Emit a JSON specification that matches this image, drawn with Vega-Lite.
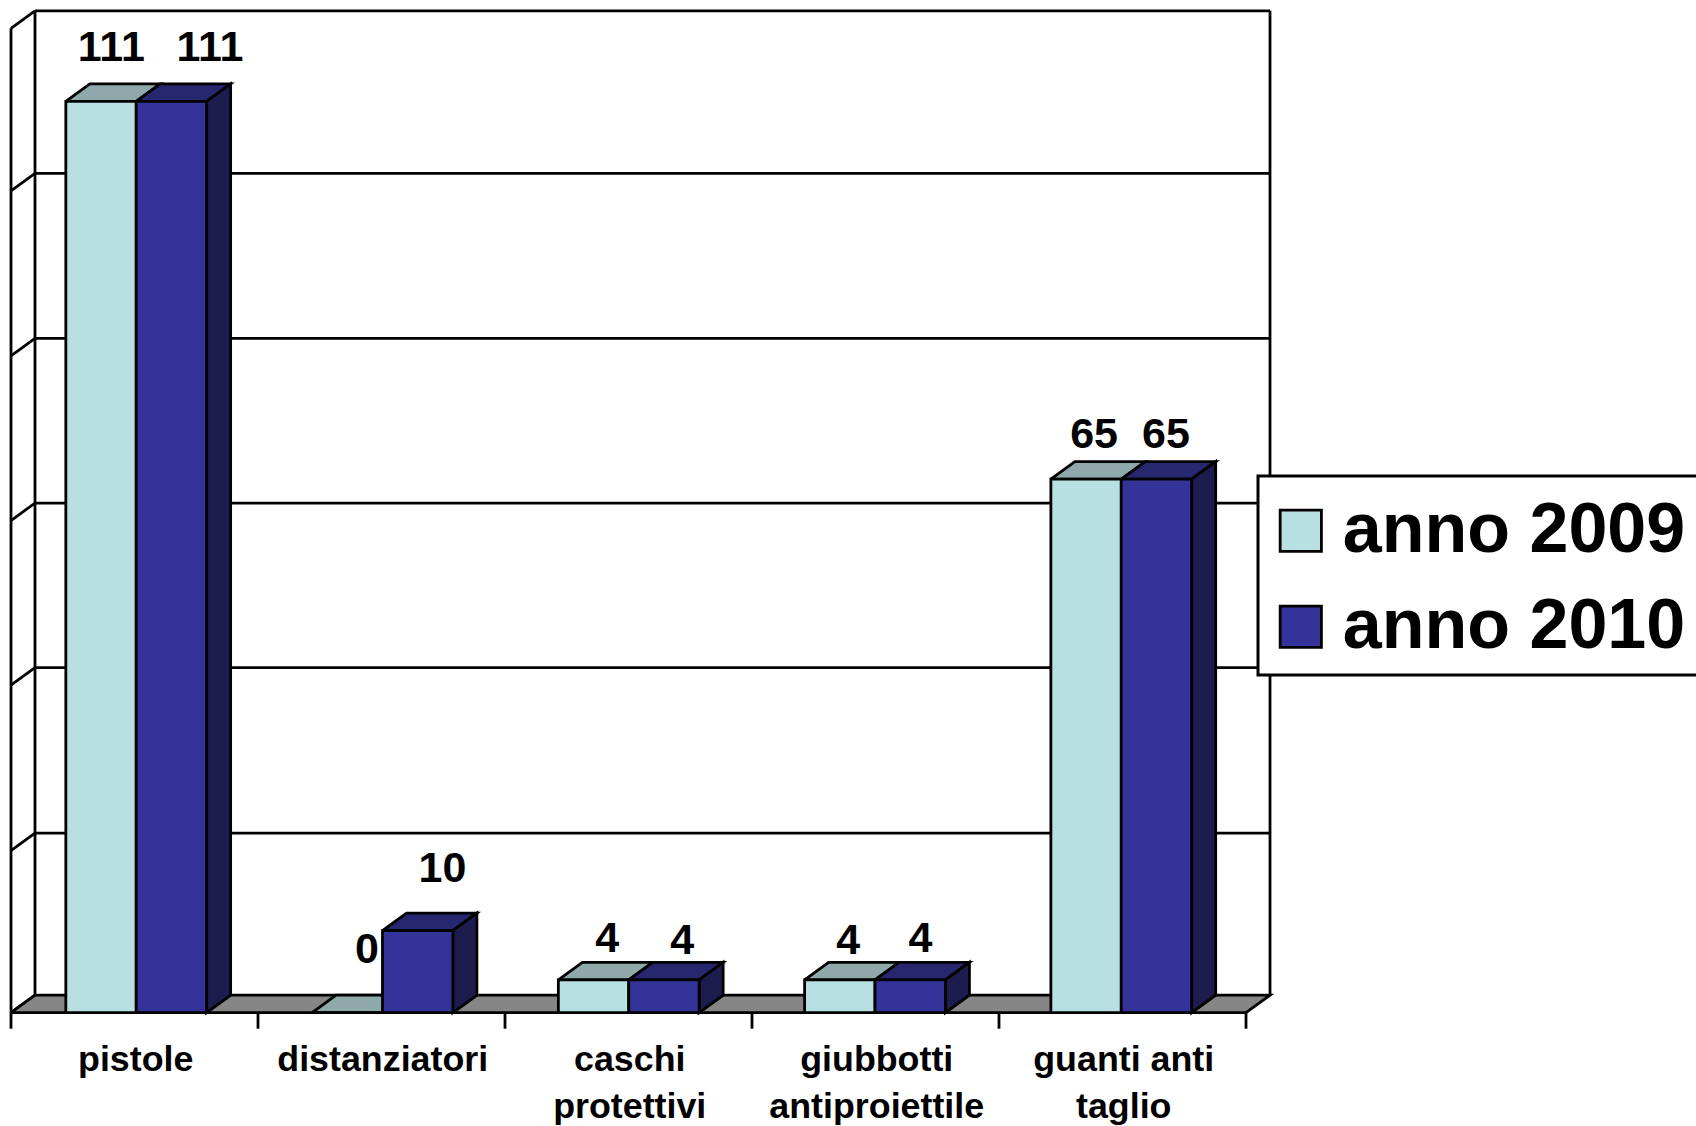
{"$schema":"https://vega.github.io/schema/vega-lite/v6.json","width":1696,"height":1126,"autosize":{"type":"none"},"padding":0,"background":"white","config":{"view":{"stroke":null},"legend":{"strokeWidth":3}},
"datasets":{"bars":[
{"category":"pistole","series":"anno 2009","value":111},{"category":"pistole","series":"anno 2010","value":111},
{"category":"distanziatori","series":"anno 2009","value":0},{"category":"distanziatori","series":"anno 2010","value":10},
{"category":"caschi protettivi","series":"anno 2009","value":4},{"category":"caschi protettivi","series":"anno 2010","value":4},
{"category":"giubbotti antiproiettile","series":"anno 2009","value":4},{"category":"giubbotti antiproiettile","series":"anno 2010","value":4},
{"category":"guanti anti taglio","series":"anno 2009","value":65},{"category":"guanti anti taglio","series":"anno 2010","value":65}],
"grid":[{"v":0},{"v":19.75},{"v":39.9},{"v":59.95},{"v":80},{"v":100.1},{"v":119.9}],
"slots":[{"slot":0},{"slot":1},{"slot":2},{"slot":3},{"slot":4},{"slot":5}],
"labels":[{"text":"pistole","slot":0,"line":0},{"text":"distanziatori","slot":1,"line":0},{"text":"caschi","slot":2,"line":0},{"text":"protettivi","slot":2,"line":1},{"text":"giubbotti","slot":3,"line":0},{"text":"antiproiettile","slot":3,"line":1},{"text":"guanti anti","slot":4,"line":0},{"text":"taglio","slot":4,"line":1}]},
"layer":[
{"data":{"name":"grid"},"mark":{"type":"rule","stroke":"black","strokeWidth":2.8},"transform":[{"filter":"datum.v>0"},{"calculate":"datum.v+2.13","as":"yb"},{"calculate":"0.0972","as":"xa"},{"calculate":"5.0972","as":"xb"}],"encoding":{"x":{"field":"xa","type":"quantitative","axis":null,"scale":{"domain":[-0.04453,6.82186],"range":[0,1696],"nice":false,"zero":false}},"x2":{"field":"xb"},"y":{"field":"yb","type":"quantitative","axis":null,"scale":{"domain":[-13.8,123.35],"range":[1126,0],"nice":false,"zero":false}}}},
{"data":{"name":"grid"},"mark":{"type":"rule","stroke":"black","strokeWidth":2.8},"transform":[{"calculate":"datum.v+2.13","as":"yb"},{"calculate":"0.0972","as":"xb"},{"calculate":"0","as":"xa"}],"encoding":{"x":{"field":"xa","type":"quantitative","axis":null},"x2":{"field":"xb"},"y":{"field":"v","type":"quantitative","axis":null},"y2":{"field":"yb"}}},
{"data":{"values":[{"wall":0,"lo":0,"hi":119.9},{"wall":0.0972,"lo":2.13,"hi":122.03},{"wall":5.0972,"lo":2.13,"hi":122.03}]},"mark":{"type":"rule","stroke":"black","strokeWidth":2.8},"encoding":{"x":{"field":"wall","type":"quantitative","axis":null},"y":{"field":"lo","type":"quantitative","axis":null},"y2":{"field":"hi"}}},
{"data":{"values":[{"px":0,"py":0,"k":0},{"px":0.0972,"py":2.13,"k":1},{"px":5.0972,"py":2.13,"k":2},{"px":5,"py":0,"k":3},{"px":0,"py":0,"k":4}]},"mark":{"type":"line","stroke":"black","strokeWidth":2.8,"fill":"#868686","strokeJoin":"miter"},"encoding":{"x":{"field":"px","type":"quantitative","axis":null},"y":{"field":"py","type":"quantitative","axis":null},"order":{"field":"k","type":"quantitative"}}},
{"data":{"name":"slots"},"mark":{"type":"rule","stroke":"black","strokeWidth":2.8},"transform":[{"calculate":"0","as":"top"},{"calculate":"-1.95","as":"bottom"}],"encoding":{"x":{"field":"slot","type":"quantitative","axis":null},"y":{"field":"top","type":"quantitative","axis":null},"y2":{"field":"bottom"}}},
{"data":{"name":"bars"},"transform":[
{"calculate":"indexof(['pistole','distanziatori','caschi protettivi','giubbotti antiproiettile','guanti anti taglio'],datum.category)","as":"i"},
{"calculate":"0.507+0.997*datum.i+(datum.series==='anno 2009'?-0.285:0)","as":"xL"},{"calculate":"datum.xL+0.285","as":"xR"},
{"calculate":"[datum.xL,datum.xL+0.0972,datum.xR+0.0972,datum.xR,datum.xL]","as":"px"},{"calculate":"[datum.value,datum.value+2.13,datum.value+2.13,datum.value,datum.value]","as":"py"},{"calculate":"[0,1,2,3,4]","as":"k"},{"flatten":["px","py","k"]}],
"mark":{"type":"line","stroke":"black","strokeWidth":2.8,"strokeJoin":"miter"},
"encoding":{"x":{"field":"px","type":"quantitative","axis":null},"y":{"field":"py","type":"quantitative","axis":null},"detail":[{"field":"category"},{"field":"series"}],"order":{"field":"k","type":"quantitative"},"fill":{"condition":{"test":"datum.series==='anno 2009'","value":"#8FA9AB"},"value":"#27276F"}}},
{"data":{"name":"bars"},"transform":[{"filter":"datum.series==='anno 2010'"},
{"calculate":"indexof(['pistole','distanziatori','caschi protettivi','giubbotti antiproiettile','guanti anti taglio'],datum.category)","as":"i"},
{"calculate":"0.507+0.997*datum.i+0.285","as":"xR"},
{"calculate":"[datum.xR,datum.xR+0.0972,datum.xR+0.0972,datum.xR,datum.xR]","as":"px"},{"calculate":"[datum.value,datum.value+2.13,2.13,0,datum.value]","as":"py"},{"calculate":"[0,1,2,3,4]","as":"k"},{"flatten":["px","py","k"]}],
"mark":{"type":"line","stroke":"black","strokeWidth":2.8,"fill":"#1C1C4E","strokeJoin":"miter"},
"encoding":{"x":{"field":"px","type":"quantitative","axis":null},"y":{"field":"py","type":"quantitative","axis":null},"detail":{"field":"category"},"order":{"field":"k","type":"quantitative"}}},
{"data":{"name":"bars"},"transform":[
{"calculate":"indexof(['pistole','distanziatori','caschi protettivi','giubbotti antiproiettile','guanti anti taglio'],datum.category)","as":"i"},
{"calculate":"0.507+0.997*datum.i+(datum.series==='anno 2009'?-0.285:0)","as":"xL"},{"calculate":"datum.xL+0.285","as":"xR"},{"calculate":"0","as":"base"}],
"mark":{"type":"rect","stroke":"black","strokeWidth":2.8},
"encoding":{"x":{"field":"xL","type":"quantitative","axis":null},"x2":{"field":"xR"},"y":{"field":"value","type":"quantitative","axis":null},"y2":{"field":"base"},
"color":{"field":"series","type":"nominal","scale":{"domain":["anno 2009","anno 2010"],"range":["#B8E0E3","#333399"]},
"legend":{"orient":"none","legendX":1258,"legendY":476,"title":" ","titleFontSize":1,"titlePadding":6,"padding":12.8,"fillColor":"white","strokeColor":"black","symbolType":"square","symbolSize":1700,"symbolOffset":-5,"symbolStrokeColor":"black","symbolStrokeWidth":2.8,"symbolOpacity":1,"labelFont":"Liberation Sans","labelFontWeight":"bold","labelFontSize":70,"labelColor":"black","labelOffset":7,"rowPadding":26,"labelLimit":600}}}},
{"data":{"name":"bars"},"transform":[
{"calculate":"indexof(['pistole','distanziatori','caschi protettivi','giubbotti antiproiettile','guanti anti taglio'],datum.category)","as":"i"},
{"calculate":"datum.series==='anno 2009'?0:1","as":"s"},
{"calculate":"[[11.8,40.3],[40.5,40.3],[20.5,49.7],[26,48.6],[13.7,28],[18.7,25.6],[7.7,25.6],[10,28],[6.6,31],[8.5,31]][datum.i*2+datum.s]","as":"shift"},
{"calculate":"datum.i+0.5+(datum.s-0.5)*0.2834+datum.shift[0]/247","as":"lx"},{"calculate":"datum.value+datum.shift[1]/8.21","as":"ly"}],
"mark":{"type":"text","font":"Liberation Sans","fontWeight":"bold","fontSize":43,"align":"center","baseline":"alphabetic","color":"black"},
"encoding":{"x":{"field":"lx","type":"quantitative","axis":null},"y":{"field":"ly","type":"quantitative","axis":null},"text":{"field":"value","type":"quantitative"}}},
{"data":{"name":"labels"},"transform":[{"calculate":"datum.slot+0.505","as":"lx"},{"calculate":"-7.06-5.73*datum.line","as":"ly"}],
"mark":{"type":"text","font":"Liberation Sans","fontWeight":"bold","fontSize":35.8,"align":"center","baseline":"alphabetic","color":"black"},
"encoding":{"x":{"field":"lx","type":"quantitative","axis":null},"y":{"field":"ly","type":"quantitative","axis":null},"text":{"field":"text","type":"nominal"}}}
]}
